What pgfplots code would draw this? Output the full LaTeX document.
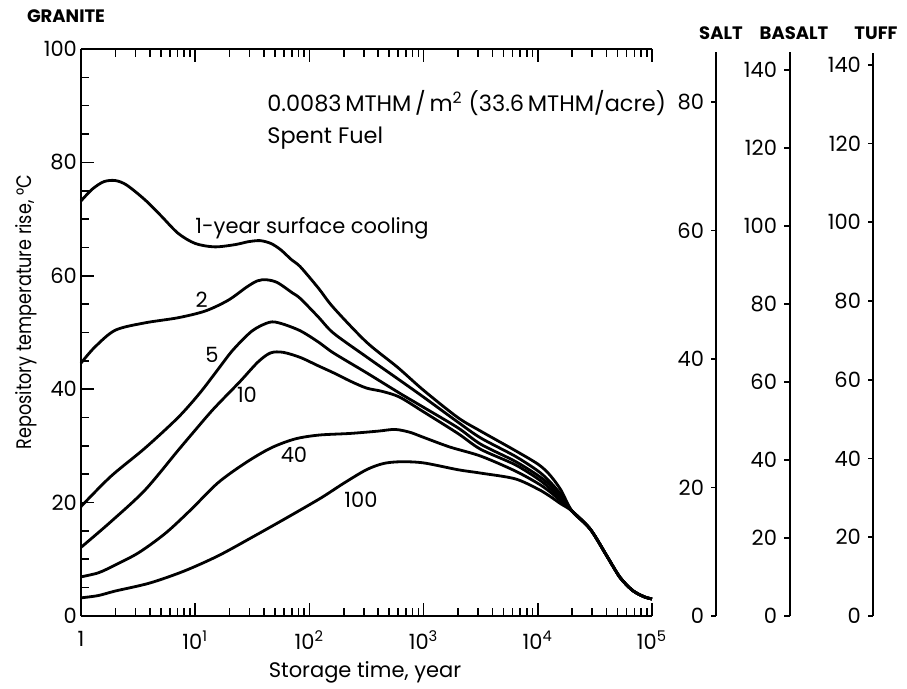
\documentclass[border=0pt]{standalone}
\usepackage{fontspec}
\setmainfont{Poppins}
\usepackage{pgfplots}
\pgfplotsset{compat=1.18}
\begin{document}
\begin{tikzpicture}[x=1pt,y=1pt,font=\fontsize{10.5}{12}\selectfont]
\path[use as bounding box] (0,0) rectangle (453.5,344.5);
\pgfplotsset{
  every axis/.append style={
    /pgf/number format/assume math mode=true,
    tick label style={font=\fontsize{10.5}{12}\selectfont},
    every tick/.style={black,line width=0.8pt},
  },
  curve/.style={black, line width=1.4pt, smooth},
}
\begin{axis}[
  at={(40.5pt,36.5pt)}, anchor=south west,
  scale only axis, width=285.5pt, height=283.5pt,
  xmode=log, xmin=1, xmax=100000, ymin=0, ymax=100,
  axis x line=box, axis y line=left,
  axis line style={-, line width=1pt},
  xtick={1,10,100,1000,10000,100000},
  xticklabels={1,10\textsuperscript{1},10\textsuperscript{2},10\textsuperscript{3},10\textsuperscript{4},10\textsuperscript{5}},
  minor xtick={2,3,4,5,6,7,8,9,20,30,40,50,60,70,80,90,200,300,400,500,600,700,800,900,2000,3000,4000,5000,6000,7000,8000,9000,20000,30000,40000,50000,60000,70000,80000,90000},
  ytick={0,20,40,60,80,100},
  minor y tick num=3,
  major tick length=6.5pt, minor tick length=4pt,
  tick align=inside,
  xticklabel style={yshift=-4pt},
  yticklabel style={xshift=1.5pt},
  clip=false,
]
% 1-year
\addplot[curve] coordinates {
(1,73.2) (1.259,75.3) (1.585,76.6) (1.995,76.8) (2.512,76.0) (3.631,73.4) (5.012,70.6) (7.079,67.5) (10,65.7) (14.79,65.1) (22.39,65.5) (29,66.0) (37,66.2) (46,65.7) (56,64.6) (70,62.8) (83.18,61.6) (120.2,57.8) (162.2,54.4) (316.2,48.3) (588.8,43.9) (1000,39.8) (1995,35.0) (3162,32.6) (6310,29.2) (10000,26.8) (12589,25.0) (15849,22.3) (19953,18.5) (28840,15.3) (40738,10.4) (52481,6.8) (67608,4.5) (85114,3.4) (100000,3.0)
};
% 2
\addplot[curve] coordinates {
(1,44.6) (1.318,47.4) (1.995,50.4) (3.631,51.7) (7.079,52.6) (12.30,53.8) (19.50,55.7) (28.18,58.0) (35,59.1) (42,59.3) (52.48,58.8) (70.79,57.0) (83.18,56.0) (120.2,52.7) (162.2,49.9) (316.2,45.7) (616.6,41.6) (1000,38.6) (1995,34.2) (3162,31.4) (6310,28.2) (10000,25.6) (12589,23.8) (15849,21.5) (19953,18.5) (28840,15.3) (40738,10.4) (52481,6.8) (67608,4.5) (85114,3.4) (100000,3.0)
};
% 5
\addplot[curve] coordinates {
(1,19.3) (1.820,24.6) (3.631,29.6) (7.079,35.0) (10.96,39.3) (15.85,43.5) (21.38,46.9) (31.62,50.3) (44.67,51.8) (56.23,51.6) (83.18,50.3) (120.2,48.3) (162.2,46.4) (316.2,42.9) (616.6,39.3) (1000,36.8) (1995,33.2) (3162,30.3) (6310,27.3) (10000,24.8) (12589,23.2) (15849,21.0) (19953,18.5) (28840,15.3) (40738,10.4) (52481,6.8) (67608,4.5) (85114,3.4) (100000,3.0)
};
% 10
\addplot[curve] coordinates {
(1,12.1) (1.820,16.6) (3.631,22.2) (7.079,29.2) (9.55,32.3) (14.45,36.5) (24.55,41.3) (35.48,44.8) (45.71,46.4) (58.88,46.5) (83.18,45.6) (120.2,44.1) (162.2,42.9) (229.1,41.4) (316.2,40.2) (436.5,39.6) (616.6,38.6) (1000,36.0) (1995,32.2) (3162,29.4) (6310,26.7) (10000,24.2) (12589,22.6) (15849,20.6) (19953,18.5) (28840,15.3) (40738,10.4) (52481,6.8) (67608,4.5) (85114,3.4) (100000,3.0)
};
% 40
\addplot[curve] coordinates {
(1,6.9) (1.413,7.6) (1.820,8.6) (3.162,11.1) (5.495,14.6) (9.12,18.7) (15.85,23.5) (27.54,27.0) (45.71,29.6) (74.13,31.2) (120.2,31.9) (229.1,32.2) (398.1,32.6) (562.3,32.9) (758.6,32.4) (1000,31.5) (1698,29.8) (3162,28.2) (6310,25.6) (10000,23.4) (12589,22.0) (15849,20.3) (19953,18.5) (28840,15.3) (40738,10.4) (52481,6.8) (67608,4.5) (85114,3.4) (100000,3.0)
};
% 100
\addplot[curve] coordinates {
(1,3.2) (1.413,3.6) (1.995,4.4) (3.981,5.8) (7.943,7.9) (15.85,10.6) (31.62,13.9) (63.10,17.3) (125.9,20.8) (199.5,23.4) (316.2,25.8) (446.7,26.9) (631.0,27.2) (1000,27.0) (1995,25.8) (3162,25.2) (6310,24.2) (10000,22.4) (12589,21.2) (15849,19.8) (19953,18.5) (28840,15.3) (40738,10.4) (52481,6.8) (67608,4.5) (85114,3.4) (100000,3.0)
};
\node[anchor=base west, inner sep=0pt, font=\fontsize{11.2}{13}\selectfont] at (axis cs:42.5,88.9) {0.0083\,MTHM\,/\,m\textsuperscript{2} (33.6\,MTHM/acre)};
\node[anchor=base west, inner sep=0pt, font=\fontsize{11.2}{13}\selectfont] at (axis cs:42.5,83.4) {Spent Fuel};
\node[anchor=base west, inner sep=0pt] at (axis cs:9.96,67.5) {1-year surface cooling};
\node[inner sep=0pt] at (axis cs:11.4,55.7) {2};
\node[inner sep=0pt] at (axis cs:14.0,46.0) {5};
\node[inner sep=0pt] at (axis cs:28.4,39.0) {10};
\node[inner sep=0pt] at (axis cs:73.3,28.4) {40};
\node[inner sep=0pt] at (axis cs:283,20.5) {100};
\end{axis}
% SALT
\begin{axis}[
  at={(358pt,36.5pt)}, anchor=south west,
  scale only axis, width=1pt, height=282pt,
  xmin=0, xmax=1, ymin=0, ymax=87.8,
  axis x line=none, axis y line=left,
  axis line style={-, line width=1pt},
  tick align=outside, major tick length=2.5pt,
  ytick={0,20,40,60,80},
]
\end{axis}
% BASALT
\begin{axis}[
  at={(395pt,36.5pt)}, anchor=south west,
  scale only axis, width=1pt, height=282pt,
  xmin=0, xmax=1, ymin=0, ymax=144.6,
  axis x line=none, axis y line=left,
  axis line style={-, line width=1pt},
  tick align=outside, major tick length=3pt,
  ytick={0,20,40,60,80,100,120,140},
]
\end{axis}
% TUFF
\begin{axis}[
  at={(436.5pt,36.5pt)}, anchor=south west,
  scale only axis, width=1pt, height=281.5pt,
  xmin=0, xmax=1, ymin=0, ymax=143.0,
  axis x line=none, axis y line=left,
  axis line style={-, line width=1pt},
  tick align=outside, major tick length=2.5pt,
  ytick={0,20,40,60,80,100,120,140},
]
\end{axis}
\node[font=\fontsize{9}{10}\selectfont\bfseries] at (33,336.5) {GRANITE};
\node[font=\fontsize{9}{10}\selectfont\bfseries] at (360.5,328) {SALT};
\node[font=\fontsize{9}{10}\selectfont\bfseries] at (397,328) {BASALT};
\node[font=\fontsize{9}{10}\selectfont\bfseries] at (438,328) {TUFF};
\node[rotate=90] at (13,188.5) {\scalebox{0.84}[1]{Repository temperature rise, °C}};
\node at (182.5,8.5) {Storage time, year};
\end{tikzpicture}
\end{document}
